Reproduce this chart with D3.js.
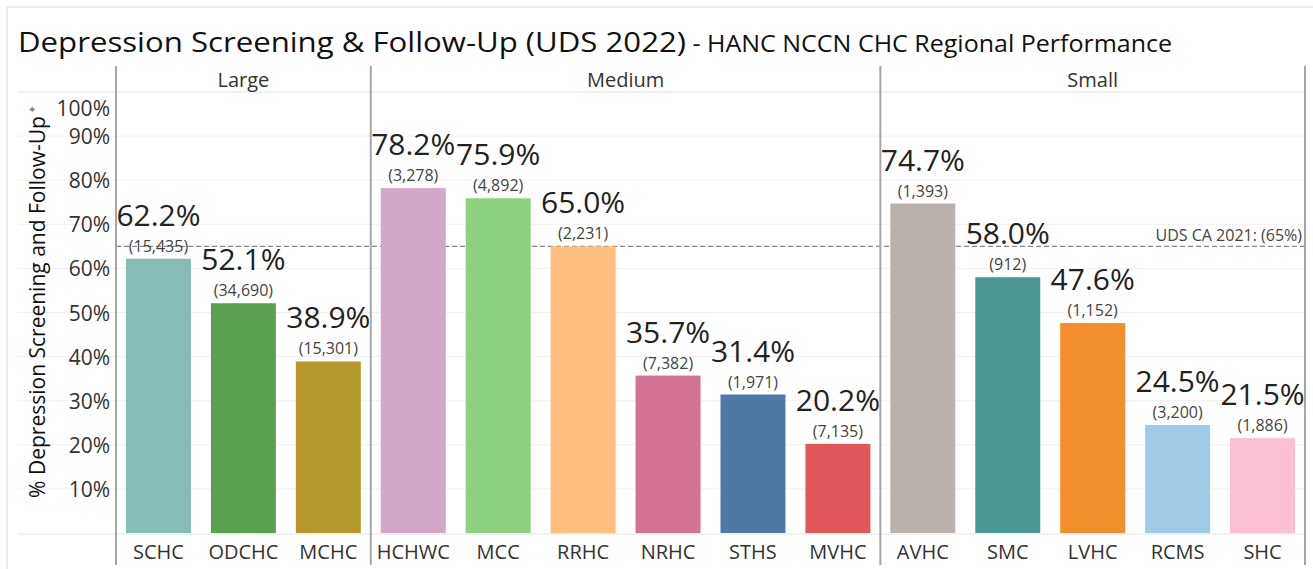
<!DOCTYPE html>
<html>
<head>
<meta charset="utf-8">
<script src="https://d3js.org/d3.v7.min.js"></script>
<style>
  body { margin: 0; background: #fff; }
  text { font-family: "Open Sans", "Noto Sans", sans-serif; }
</style>
</head>
<body>
<svg id="chart" width="1313" height="569"></svg>
<script>
// data
const groups = ["Large", "Medium", "Small"];
const clinics = ["SCHC", "ODCHC", "MCHC", "HCHWC", "MCC", "RRHC", "NRHC", "STHS", "MVHC", "AVHC", "SMC", "LVHC", "RCMS", "SHC"];
const clinicGroup = ["Large", "Large", "Large", "Medium", "Medium", "Medium", "Medium", "Medium", "Medium", "Small", "Small", "Small", "Small", "Small"];
const pct = [62.2, 52.1, 38.9, 78.2, 75.9, 65.0, 35.7, 31.4, 20.2, 74.7, 58.0, 47.6, 24.5, 21.5];
const counts = [15435, 34690, 15301, 3278, 4892, 2231, 7382, 1971, 7135, 1393, 912, 1152, 3200, 1886];
const colors = ["#86bcb6", "#59a14f", "#b6992d", "#d4a6c8", "#8cd17d", "#ffbe7d", "#d37295", "#4e79a7", "#e15759", "#bab0ac", "#499894", "#f28e2b", "#a0cbe8", "#fabfd2"];
const yTicks = [10, 20, 30, 40, 50, 60, 70, 80, 90, 100];
const refValue = 65;
const refLabel = "UDS CA 2021: (65%)";

const svg = d3.select("#chart");
const left = 116, right = 1305, headTop = 66, headBottom = 92, plotBottom = 533, axisBottom = 565;

// outer frame
svg.append("rect").attr("x", 7).attr("y", 7).attr("width", 1313).attr("height", 580)
   .attr("fill", "none").attr("stroke", "#e6e6e6").attr("stroke-width", 1.5);

// title
const title = svg.append("text").attr("x", 18).attr("y", 52).attr("fill", "#111");
title.append("tspan").attr("font-size", 28).attr("textLength", 668).attr("lengthAdjust", "spacingAndGlyphs")
   .text("Depression Screening & Follow-Up (UDS 2022)");
title.append("tspan").attr("font-size", 23).attr("textLength", 486).attr("lengthAdjust", "spacingAndGlyphs")
   .text(" - HANC NCCN CHC Regional Performance");

// each clinic gets an equal step across the whole width
const x = d3.scaleBand().domain(clinics).range([left, right]).paddingInner(0.235).paddingOuter(0.1175);
const y = d3.scaleLinear().domain([0, 100]).range([plotBottom, headBottom]);

// panel bounds from the band scale
const step = x.step();
const panels = groups.map(g => {
  const idx = clinicGroup.map((c, i) => c === g ? i : -1).filter(i => i >= 0);
  return { name: g, x0: left + idx[0] * step, x1: left + (idx[idx.length - 1] + 1) * step };
});

// gridlines
svg.append("g").selectAll("line").data(yTicks.slice(0, -1)).join("line")
   .attr("x1", 18).attr("x2", right)
   .attr("y1", d => y(d)).attr("y2", d => y(d))
   .attr("stroke", "#f0f0f0").attr("stroke-width", 1);

// header and baseline rules
svg.append("line").attr("x1", 18).attr("x2", right).attr("y1", headBottom).attr("y2", headBottom)
   .attr("stroke", "#e4e4e4");
svg.append("line").attr("x1", 18).attr("x2", right).attr("y1", plotBottom + 1).attr("y2", plotBottom + 1)
   .attr("stroke", "#e4e4e4");

// panel headers
svg.append("g").selectAll("text").data(panels).join("text")
   .attr("x", d => (d.x0 + d.x1) / 2).attr("y", 87)
   .attr("text-anchor", "middle").attr("font-size", 20).attr("fill", "#333")
   .text(d => d.name);

// y tick labels (100% nudged into the pane like Tableau does)
svg.append("g").selectAll("text").data(yTicks).join("text")
   .attr("x", 110).attr("y", d => d === 100 ? y(d) + 24 : y(d) + 8)
   .attr("text-anchor", "end").attr("font-size", 21).attr("fill", "#333")
   .text(d => d + "%");

// y axis title
svg.append("text")
   .attr("transform", "translate(45,307) rotate(-90)")
   .attr("text-anchor", "middle").attr("font-size", 21).attr("fill", "#111")
   .text("% Depression Screening and Follow-Up");
svg.append("text").attr("x", 28).attr("y", 113).attr("font-size", 10).attr("fill", "#6a7f99")
   .text("\u2726");

// reference line
svg.append("line").attr("x1", left).attr("x2", right)
   .attr("y1", y(refValue)).attr("y2", y(refValue))
   .attr("stroke", "#888").attr("stroke-width", 1.3).attr("stroke-dasharray", "5,3");
svg.append("text").attr("x", right - 3).attr("y", y(refValue) - 5)
   .attr("text-anchor", "end").attr("font-size", 16).attr("fill", "#444")
   .text(refLabel);

// bars
const rows = clinics.map((c, i) => ({ name: c, pct: pct[i], count: counts[i], color: colors[i] }));
svg.append("g").selectAll("rect").data(rows).join("rect")
   .attr("x", d => x(d.name)).attr("width", x.bandwidth())
   .attr("y", d => y(d.pct)).attr("height", d => plotBottom - y(d.pct))
   .attr("fill", d => d.color);

// count labels
svg.append("g").selectAll("text").data(rows).join("text")
   .attr("x", d => x(d.name) + x.bandwidth() / 2).attr("y", d => y(d.pct) - 7)
   .attr("text-anchor", "middle").attr("font-size", 16).attr("fill", "#444")
   .text(d => "(" + d3.format(",")(d.count) + ")");

// percent labels
svg.append("g").selectAll("text").data(rows).join("text")
   .attr("x", d => x(d.name) + x.bandwidth() / 2).attr("y", d => y(d.pct) - 33)
   .attr("text-anchor", "middle").attr("font-size", 30).attr("fill", "#222")
   .text(d => d.pct.toFixed(1) + "%");

// x labels
svg.append("g").selectAll("text").data(rows).join("text")
   .attr("x", d => x(d.name) + x.bandwidth() / 2).attr("y", 559)
   .attr("text-anchor", "middle").attr("font-size", 20).attr("fill", "#333")
   .text(d => d.name);

// panel dividers
const edges = [panels[0].x0].concat(panels.map(p => p.x1));
svg.append("g").selectAll("line").data(edges).join("line")
   .attr("x1", d => d).attr("x2", d => d)
   .attr("y1", headTop).attr("y2", axisBottom)
   .attr("stroke", "#a6a6a6").attr("stroke-width", 2);
</script>
</body>
</html>
